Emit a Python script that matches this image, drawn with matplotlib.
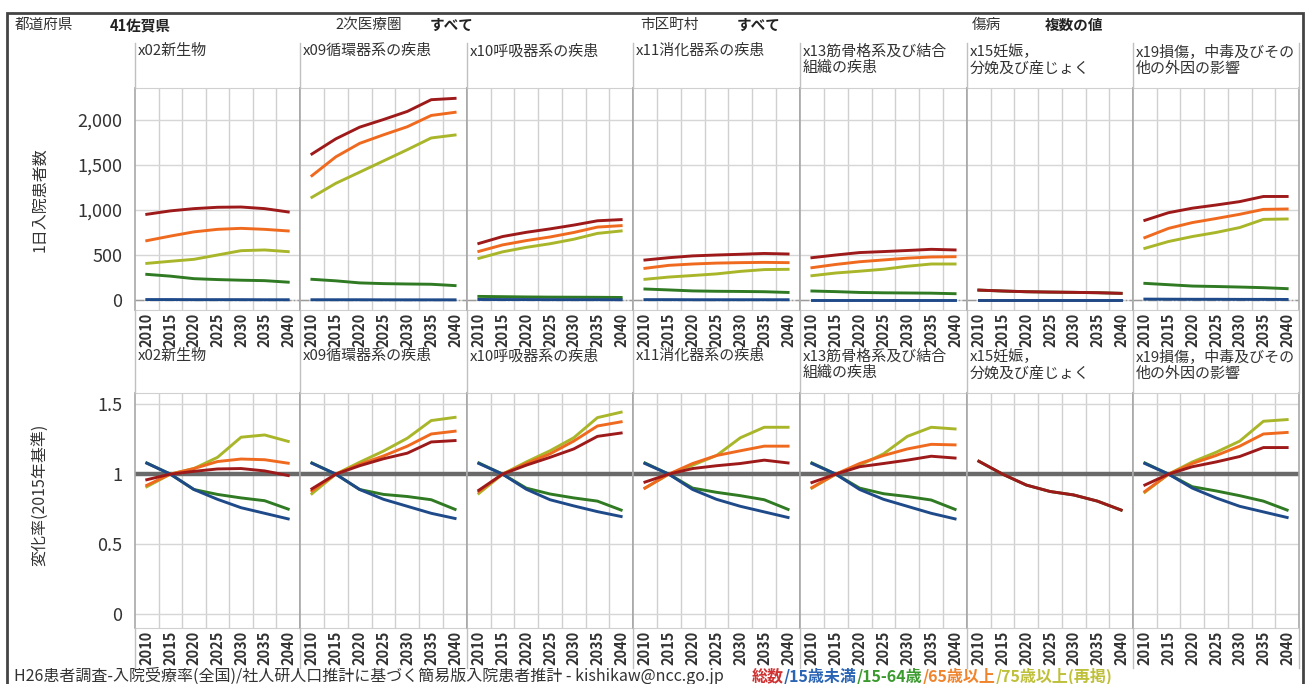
import numpy as np
import matplotlib
matplotlib.use('Agg')
import matplotlib.pyplot as plt
from matplotlib.lines import Line2D
from matplotlib.patches import Rectangle

plt.rcParams['font.family'] = ['Noto Sans CJK JP', 'DejaVu Sans']

W, H = 1310, 684

years = ['2010', '2015', '2020', '2025', '2030', '2035', '2040']
diseases = ['x02新生物', 'x09循環器系の疾患', 'x10呼吸器系の疾患', 'x11消化器系の疾患',
            'x13筋骨格系及び結合\n組織の疾患', 'x15妊娠，\n分娩及び産じょく',
            'x19損傷，中毒及びその\n他の外因の影響']

# 1日入院患者数 (one row per disease)
cnt_total = [[952, 990, 1015, 1030, 1033, 1015, 978],
             [1622, 1790, 1920, 2005, 2095, 2225, 2240],
             [628, 705, 752, 790, 832, 880, 893],
             [444, 470, 490, 500, 508, 517, 511],
             [470, 500, 527, 538, 550, 563, 556],
             [110, 100, 92, 88, 85, 81, 74],
             [885, 970, 1020, 1055, 1093, 1150, 1150]]
cnt_u15 = [[5, 5, 4, 4, 4, 3, 3],
           [3, 3, 3, 2, 2, 2, 2],
           [6, 5, 5, 4, 4, 4, 3],
           [4, 4, 3, 3, 3, 3, 3],
           [1, 1, 1, 1, 1, 1, 1],
           [0, 0, 0, 0, 0, 0, 0],
           [10, 9, 8, 8, 7, 7, 6]]
cnt_1564 = [[285, 265, 237, 227, 220, 215, 198],
            [230, 213, 190, 182, 178, 175, 160],
            [40, 37, 34, 32, 31, 30, 28],
            [122, 112, 101, 97, 95, 92, 84],
            [100, 93, 84, 80, 78, 76, 70],
            [110, 100, 92, 88, 85, 81, 74],
            [185, 170, 155, 150, 144, 137, 126]]
cnt_65 = [[659, 710, 757, 785, 796, 785, 767],
          [1381, 1590, 1740, 1835, 1925, 2050, 2085],
          [540, 612, 660, 700, 750, 810, 826],
          [352, 385, 400, 410, 415, 418, 415],
          [359, 395, 425, 445, 465, 478, 481],
          [0, 0, 0, 0, 0, 0, 0],
          [693, 796, 860, 905, 952, 1007, 1011]]
cnt_75 = [[407, 430, 452, 500, 548, 556, 537],
          [1141, 1296, 1420, 1545, 1670, 1800, 1833],
          [463, 535, 585, 625, 675, 740, 767],
          [230, 255, 272, 290, 318, 338, 341],
          [270, 300, 320, 342, 375, 400, 400],
          [0, 0, 0, 0, 0, 0, 0],
          [574, 650, 705, 750, 805, 896, 900]]

# 変化率 (2015年基準)
nan = np.nan
rate_total = [[0.96, 1.0, 1.02, 1.037, 1.04, 1.023, 0.99],
              [0.895, 1.0, 1.06, 1.11, 1.15, 1.23, 1.24],
              [0.885, 1.0, 1.064, 1.12, 1.18, 1.27, 1.294],
              [0.943, 1.0, 1.04, 1.06, 1.076, 1.1, 1.08],
              [0.94, 1.0, 1.053, 1.076, 1.1, 1.128, 1.115],
              [1.092, 1.0, 0.922, 0.876, 0.851, 0.807, 0.743],
              [0.922, 1.0, 1.053, 1.087, 1.126, 1.19, 1.19]]
rate_u15 = [[1.078, 1.0, 0.89, 0.82, 0.76, 0.72, 0.68],
            [1.078, 1.0, 0.89, 0.82, 0.77, 0.72, 0.683],
            [1.076, 1.0, 0.892, 0.817, 0.773, 0.732, 0.697],
            [1.076, 1.0, 0.89, 0.82, 0.77, 0.73, 0.69],
            [1.076, 1.0, 0.89, 0.82, 0.77, 0.72, 0.68],
            [nan] * 7,
            [1.076, 1.0, 0.9, 0.83, 0.77, 0.73, 0.69]]
rate_1564 = [[1.08, 1.0, 0.89, 0.855, 0.83, 0.81, 0.75],
             [1.08, 1.0, 0.89, 0.855, 0.84, 0.817, 0.748],
             [1.08, 1.0, 0.9, 0.858, 0.83, 0.807, 0.743],
             [1.08, 1.0, 0.9, 0.87, 0.846, 0.817, 0.748],
             [1.08, 1.0, 0.9, 0.86, 0.84, 0.815, 0.748],
             [1.092, 1.0, 0.922, 0.876, 0.851, 0.807, 0.743],
             [1.08, 1.0, 0.91, 0.88, 0.846, 0.807, 0.743]]
rate_65 = [[0.92, 1.0, 1.04, 1.09, 1.108, 1.103, 1.078],
           [0.88, 1.0, 1.07, 1.13, 1.2, 1.287, 1.307],
           [0.876, 1.0, 1.076, 1.145, 1.236, 1.344, 1.374],
           [0.9, 1.0, 1.076, 1.133, 1.167, 1.2, 1.2],
           [0.904, 1.0, 1.076, 1.133, 1.18, 1.213, 1.209],
           [nan] * 7,
           [0.876, 1.0, 1.076, 1.133, 1.2, 1.287, 1.298]]
rate_75 = [[0.91, 1.0, 1.04, 1.12, 1.264, 1.28, 1.234],
           [0.86, 1.0, 1.085, 1.165, 1.257, 1.383, 1.406],
           [0.862, 1.0, 1.087, 1.167, 1.26, 1.404, 1.443],
           [0.9, 1.0, 1.064, 1.133, 1.26, 1.335, 1.335],
           [0.9, 1.0, 1.064, 1.145, 1.27, 1.335, 1.323],
           [nan] * 7,
           [0.87, 1.0, 1.087, 1.156, 1.236, 1.378, 1.39]]

c_total, c_u15, c_1564, c_65, c_75 = '#9e1a1a', '#1f4a8a', '#2f7a22', '#ef6a1f', '#a9b62a'

fig = plt.figure(figsize=(W / 100, H / 100), dpi=100)


def frect(x0, y0, x1, y1):
    # pixel box (top-left origin) -> figure fraction rect
    return [x0 / W, 1 - y1 / H, (x1 - x0) / W, (y1 - y0) / H]


def fvline(x, y0, y1, color, lw):
    fig.add_artist(Line2D([x / W, x / W], [1 - y0 / H, 1 - y1 / H], color=color, lw=lw,
                          transform=fig.transFigure))


def ftext(x, y, s, **kw):
    return fig.text(x / W, 1 - y / H, s, **kw)


lefts = [135, 300, 467, 633, 800, 967, 1133, 1299]
xs = np.arange(len(years))

rows = [
    dict(top=88, bot=310, ylim=(-111, 2355), yt=[0, 500, 1000, 1500, 2000],
         ytl=['0', '500', '1,000', '1,500', '2,000'],
         series=[(cnt_75, c_75), (cnt_65, c_65), (cnt_1564, c_1564), (cnt_u15, c_u15), (cnt_total, c_total)]),
    dict(top=393, bot=628, ylim=(-0.1, 1.58), yt=[0, 0.5, 1, 1.5],
         ytl=['0', '0.5', '1', '1.5'],
         series=[(rate_75, c_75), (rate_65, c_65), (rate_1564, c_1564), (rate_u15, c_u15), (rate_total, c_total)]),
]

for r, row in enumerate(rows):
    for i, name in enumerate(diseases):
        ax = fig.add_axes(frect(lefts[i], row['top'], lefts[i + 1], row['bot']))
        ax.set_xlim(-0.5, 6.5)
        ax.set_ylim(*row['ylim'])
        ax.set_xticks(xs)
        ax.set_xticklabels(years, rotation=90, fontsize=10.5, color='#333333', fontweight='bold')
        ax.set_xticks(xs[:-1] + 0.5, minor=True)
        ax.grid(which='minor', axis='x', color='#d0d0d0', lw=1)
        ax.set_yticks(row['yt'])
        ax.grid(which='major', axis='y', color='#d6d6d6', lw=1)
        ax.tick_params(length=0, pad=2)
        ax.tick_params(which='minor', length=0)
        if i == 0:
            ax.set_yticklabels(row['ytl'], fontsize=13, color='#333333')
            ax.tick_params(axis='y', pad=9)
        else:
            ax.set_yticklabels([])
        for side in ['top', 'bottom']:
            ax.spines[side].set_color('#d0d0d0')
        for side in ['left', 'right']:
            ax.spines[side].set_color('#a8a8a8')
            ax.spines[side].set_linewidth(1.2)
        ax.set_axisbelow(True)
        if r == 0:
            ax.axhline(0, color='#9a9a9a', lw=1, ls='-.', zorder=1)
        else:
            ax.axhline(1, color='#6a6a6a', lw=3.2, zorder=1)
        for data, col in row['series']:
            ax.plot(xs, data[i], color=col, lw=2.1, zorder=3)

    # panel header titles
    htop = 43 if r == 0 else 348
    for i, name in enumerate(diseases):
        ftext(lefts[i] + 3, htop + 1, name, fontsize=10.8, color='#333333', va='top',
              linespacing=1.2)

# separators in header / tick label strips
for x in lefts:
    fvline(x, 43, 88, '#c0c0c0', 1)
    fvline(x, 310, 393, '#c0c0c0', 1)
    fvline(x, 628, 668, '#c0c0c0', 1)

# filter row at top
hdr = dict(fontsize=10.5, va='center')
ftext(15, 25, '都道府県', color='#333333', **hdr)
ftext(110, 25, '41佐賀県', color='#222222', fontweight='bold', **hdr)
ftext(335, 25, '2次医療圏', color='#333333', **hdr)
ftext(430, 25, 'すべて', color='#222222', fontweight='bold', **hdr)
ftext(640, 25, '市区町村', color='#333333', **hdr)
ftext(737, 25, 'すべて', color='#222222', fontweight='bold', **hdr)
ftext(972, 25, '傷病', color='#333333', **hdr)
ftext(1045, 25, '複数の値', color='#222222', fontweight='bold', **hdr)

# y axis titles
ftext(40, 200, '1日入院患者数', fontsize=11.5, color='#333333', rotation=90, ha='center', va='center')
ftext(40, 495, '変化率(2015年基準)', fontsize=11.5, color='#333333', rotation=90, ha='center', va='center')

# footer
ftext(14, 676, 'H26患者調査-入院受療率(全国)/社人研人口推計に基づく簡易版入院患者推計 - kishikaw@ncc.go.jp',
      fontsize=11.5, color='#333333', va='center')
legend_parts = [('総数', '#d03232'), ('/15歳未満', '#2a64b4'), ('/15-64歳', '#3a9a2e'),
                ('/65歳以上', '#f0842c'), ('/75歳以上(再掲)', '#bfc03a')]
renderer = fig.canvas.get_renderer()
xpos = 752
for s, col in legend_parts:
    t = ftext(xpos, 676, s, fontsize=11.5, color=col, va='center', fontweight='bold')
    xpos += t.get_window_extent(renderer).width

# outer frame
fig.add_artist(Rectangle((7 / W, -0.01), 1296 / W, 1 - 13 / H + 0.01, fill=False,
                         edgecolor='#444444', lw=2, transform=fig.transFigure))

fig.savefig('out.png', dpi=100)
